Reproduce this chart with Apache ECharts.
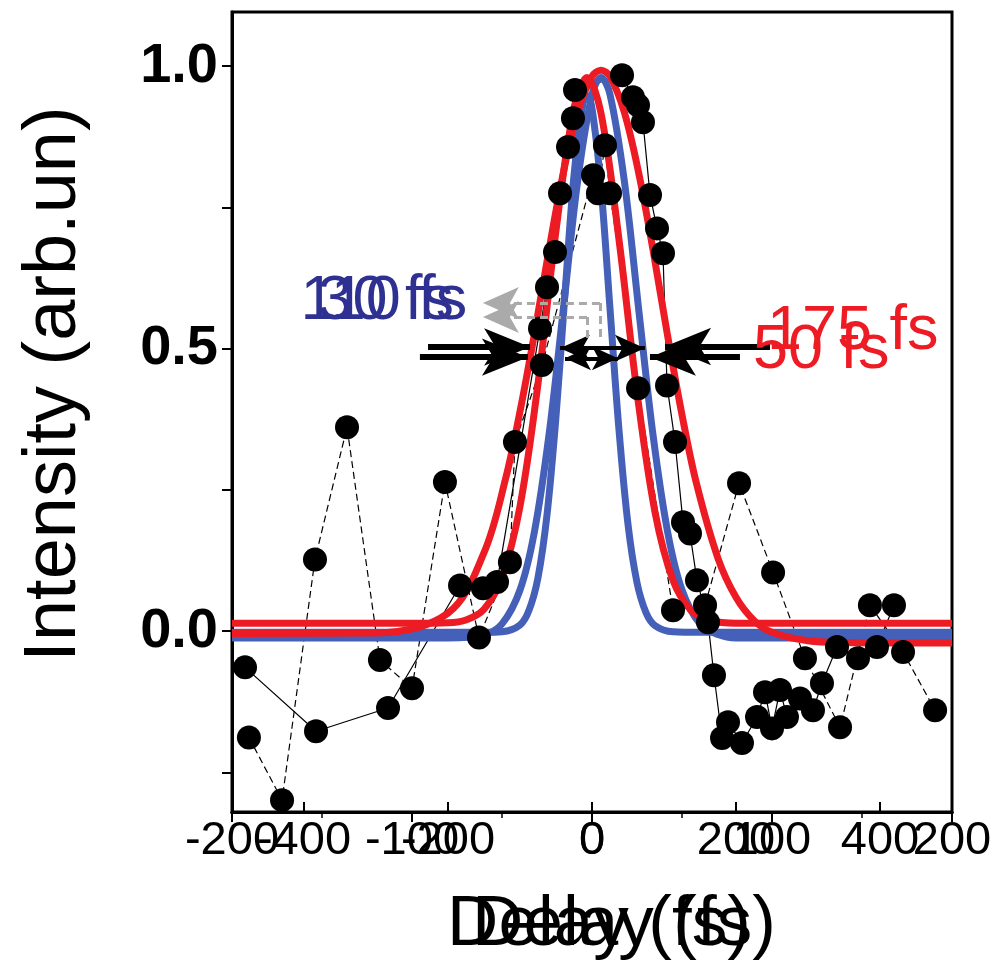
<!DOCTYPE html>
<html><head><meta charset="utf-8">
<script src="https://cdn.jsdelivr.net/npm/echarts@6/dist/echarts.min.js"></script>
<style>html,body{margin:0;padding:0;background:#fff}#c{width:1003px;height:972px}</style>
</head><body><div id="c"></div>
<script>
// ---- tick labels ----
const ticksA = [-200, -100, 0, 100, 200];          // narrow-delay axis (fs)
const ticksB = [-400, -200, 0, 200, 400];          // wide-delay axis (fs)
const ticksY = [0, 0.5, 1.0];
const minorTicksY = [-0.25, 0, 0.25, 0.5, 0.75, 1.0];

// ---- measured points, panel A (dashed connecting line, axis A) ----
const dashX = [-190.6, -172.2, -153.9, -136.1, -117.8, -100, -81.7, -62.8, -45.6, -42.8, -27.8, 0.6, 3.3, 7.2, 10, 25.6, 45, 62.8, 81.7, 100.6, 118.3, 137.8, 154.4, 172.8, 190.6];
const dashY = [-0.188, -0.299, 0.127, 0.361, -0.051, -0.101, 0.264, -0.011, 0.122, 0.335, 0.471, 0.807, 0.775, 0.860, 0.775, 0.430, 0.037, 0.046, 0.262, 0.104, -0.048, -0.170, 0.046, -0.037, -0.140];

// ---- measured points, panel B (solid connecting line, axis B) ----
const solidX = [-481.9, -383.3, -283.3, -183.3, -151.4, -131.9, -72.2, -62.5, -51.4, -44.4, -33.3, -26.4, -23.6, 41.7, 56.9, 63.9, 70.8, 80.6, 90.3, 98.6, 104.2, 115.3, 126.4, 136.1, 145.8, 161.1, 169.4, 180.6, 188.9, 208.3, 229.2, 240.3, 250, 261.1, 270.8, 288.9, 306.9, 319.4, 340.3, 369.4, 395.8, 419.4];
const solidY = [-0.064, -0.177, -0.136, 0.081, 0.076, 0.087, 0.536, 0.609, 0.671, 0.775, 0.857, 0.908, 0.958, 0.984, 0.945, 0.931, 0.901, 0.772, 0.713, 0.669, 0.435, 0.335, 0.193, 0.173, 0.090, 0.016, -0.078, -0.189, -0.161, -0.198, -0.152, -0.108, -0.172, -0.104, -0.152, -0.119, -0.140, -0.092, -0.028, -0.048, -0.028, 0.046];

// ---- fitted curves ----
const redNarrowX = [-200, -100, -80, -70, -60, -50, -40, -30, -20, -10, -2.8, 5, 15, 25, 35, 45, 55, 65, 80, 200];
const redNarrowY = [0.014, 0.014, 0.015, 0.020, 0.039, 0.095, 0.221, 0.438, 0.709, 0.926, 0.980, 0.917, 0.693, 0.423, 0.211, 0.090, 0.037, 0.020, 0.014, 0.014];
const blueNarrowX = [-200, -60, -50, -40, -35, -30, -25, -20, -15, -10, -5, -2.8, 0, 5, 10, 15, 20, 25, 30, 35, 45, 60, 200];
const blueNarrowY = [-0.002, -0.002, -0.001, 0.011, 0.037, 0.095, 0.206, 0.380, 0.598, 0.807, 0.934, 0.948, 0.925, 0.786, 0.571, 0.356, 0.189, 0.086, 0.033, 0.010, -0.001, -0.002, -0.002];
const redWideX = [-500, -300, -200, -150, -120, -100, -80, -60, -40, -20, 0, 12.5, 25, 45, 65, 85, 105, 125, 145, 175, 200, 225, 250, 300, 350, 500];
const redWideY = [-0.004, -0.003, 0.032, 0.139, 0.270, 0.389, 0.526, 0.673, 0.810, 0.918, 0.982, 0.993, 0.982, 0.918, 0.810, 0.673, 0.523, 0.383, 0.262, 0.129, 0.060, 0.019, -0.002, -0.017, -0.020, -0.021];
const blueWideX = [-500, -200, -150, -125, -100, -80, -60, -40, -20, 0, 12.5, 25, 45, 65, 85, 105, 125, 150, 175, 200, 500];
const blueWideY = [-0.012, -0.012, -0.006, 0.013, 0.073, 0.176, 0.345, 0.568, 0.796, 0.950, 0.980, 0.950, 0.796, 0.568, 0.345, 0.176, 0.073, 0.013, -0.006, -0.012, -0.012];

const pair = (xs, ys) => xs.map((x, i) => [x, ys[i]]);
const F = "'Liberation Sans', Arial, Helvetica, sans-serif";
const RED = '#ed1c24', BLUE = '#4560b8', TXTBLUE = '#2e3192';

const chart = echarts.init(document.getElementById('c'), null, {renderer: 'canvas'});

const baseX = {
  type: 'value', position: 'bottom',
  splitLine: {show: false},
  axisLine: {show: true, onZero: false, lineStyle: {color: '#000', width: 3}},
  axisTick: {show: true, inside: false, length: 10, lineStyle: {color: '#000', width: 2}},
  axisLabel: {color: '#000', fontFamily: F, fontSize: 47, margin: 6, formatter: v => String(v)},
  name: 'Delay (fs)', nameLocation: 'middle', nameGap: 78,
};

const option = {
  animation: false,
  backgroundColor: '#fff',
  grid: {left: 232, right: 51, top: 12, bottom: 160, show: true, borderColor: '#000', borderWidth: 3, backgroundColor: 'transparent'},
  xAxis: [
    Object.assign({}, baseX, {
      min: -200, max: 200, interval: 100,
      minorTick: {show: true, splitNumber: 2, length: 6, lineStyle: {color: '#000', width: 1.5}},
      nameTextStyle: {color: '#000', fontFamily: F, fontSize: 71, padding: [0, 0, 0, 14]}
    }),
    Object.assign({}, baseX, {
      min: -500, max: 500,
      axisTick: {show: true, inside: true, length: 10, customValues: ticksB, lineStyle: {color: '#000', width: 2}},
      axisLabel: Object.assign({}, baseX.axisLabel, {customValues: ticksB}),
      nameTextStyle: {color: '#000', fontFamily: F, fontSize: 71, padding: [0, 0, 0, 64]}
    })
  ],
  yAxis: {
    type: 'value', min: -0.32, max: 1.096,
    splitLine: {show: false},
    axisLine: {show: true, onZero: false, lineStyle: {color: '#000', width: 3}},
    axisTick: {show: true, length: 10, customValues: minorTicksY, lineStyle: {color: '#000', width: 2}},
    axisLabel: {customValues: ticksY, color: '#000', fontFamily: F, fontWeight: 'bold', fontSize: 56, margin: 14, formatter: v => v.toFixed(1)},
    name: 'Intensity (arb.un)', nameLocation: 'middle', nameGap: 140,
    nameTextStyle: {color: '#000', fontFamily: F, fontSize: 74, padding: [0, 0, 0, 56]}
  },
  series: [
    {
      name: 'data A', type: 'line', xAxisIndex: 0, data: pair(dashX, dashY),
      symbol: 'circle', symbolSize: 24, itemStyle: {color: '#000'},
      lineStyle: {color: '#000', width: 1.2, type: [7, 4]}
    },
    {
      name: 'data B', type: 'line', xAxisIndex: 1, data: pair(solidX, solidY),
      symbol: 'circle', symbolSize: 24, itemStyle: {color: '#000'},
      lineStyle: {color: '#000', width: 1.2}
    },
    {name: 'fit B blue', type: 'line', xAxisIndex: 1, data: pair(blueWideX, blueWideY), smooth: 0.35, showSymbol: false, symbol: 'none', lineStyle: {color: BLUE, width: 7}},
    {name: 'fit A blue', type: 'line', xAxisIndex: 0, data: pair(blueNarrowX, blueNarrowY), smooth: 0.35, showSymbol: false, symbol: 'none', lineStyle: {color: BLUE, width: 7}},
    {name: 'fit B red', type: 'line', xAxisIndex: 1, data: pair(redWideX, redWideY), smooth: 0.35, showSymbol: false, symbol: 'none', lineStyle: {color: RED, width: 7}},
    {name: 'fit A red', type: 'line', xAxisIndex: 0, data: pair(redNarrowX, redNarrowY), smooth: 0.35, showSymbol: false, symbol: 'none', lineStyle: {color: RED, width: 7}},
    {
      name: 'annotations', type: 'line', xAxisIndex: 0, data: [],
      markLine: {
        silent: true, animation: false, label: {show: false},
        symbol: ['none', 'arrow'], symbolSize: [28, 46],
        lineStyle: {color: '#000', width: 6, type: 'solid'},
        data: [
          [{coord: [-91.1, 0.503]}, {coord: [-34.4, 0.503]}],
          [{coord: [-95.6, 0.485]}, {coord: [-35.6, 0.485]}],
          [{coord: [98.9, 0.504]}, {coord: [40.6, 0.504]}],
          [{coord: [82.2, 0.485]}, {coord: [32.2, 0.485]}],
          [{coord: [-17.8, 0.501], symbol: 'arrow', symbolSize: [20, 30], lineStyle: {width: 4}}, {coord: [29.4, 0.501], symbol: 'arrow', symbolSize: [20, 30]}],
          [{coord: [-15, 0.483], symbol: 'arrow', symbolSize: [18, 26], lineStyle: {width: 4}}, {coord: [14.4, 0.483], symbol: 'arrow', symbolSize: [18, 26]}],
          [{coord: [4.4, 0.581], symbol: 'none', lineStyle: {color: '#aaa', width: 3, type: [8, 5]}}, {coord: [-60.6, 0.581], symbol: 'arrow', symbolSize: [24, 36], itemStyle: {color: '#aaa'}}],
          [{coord: [-2.8, 0.556], symbol: 'none', lineStyle: {color: '#aaa', width: 3, type: [8, 5]}}, {coord: [-60.6, 0.556], symbol: 'arrow', symbolSize: [24, 36], itemStyle: {color: '#aaa'}}],
          [{coord: [4.4, 0.581], symbol: 'none', lineStyle: {color: '#aaa', width: 3, type: [8, 5]}}, {coord: [4.4, 0.520], symbol: 'none'}],
          [{coord: [-2.8, 0.556], symbol: 'none', lineStyle: {color: '#aaa', width: 3, type: [8, 5]}}, {coord: [-2.8, 0.510], symbol: 'none'}]
        ]
      },
      markPoint: {
        silent: true, animation: false, symbol: 'circle', symbolSize: 0,
        label: {show: true, position: 'right', distance: 0, fontFamily: F, fontSize: 63, formatter: p => p.name},
        data: [
          {name: '110 fs', coord: [-162.0, 0.583], label: {color: TXTBLUE}},
          {name: '30 fs', coord: [-152.5, 0.583], label: {color: TXTBLUE}},
          {name: '175 fs', coord: [97.2, 0.531], label: {color: RED}},
          {name: '50 fs', coord: [89.4, 0.497], label: {color: RED}}
        ]
      }
    }
  ]
};
chart.setOption(option);
</script></body></html>
